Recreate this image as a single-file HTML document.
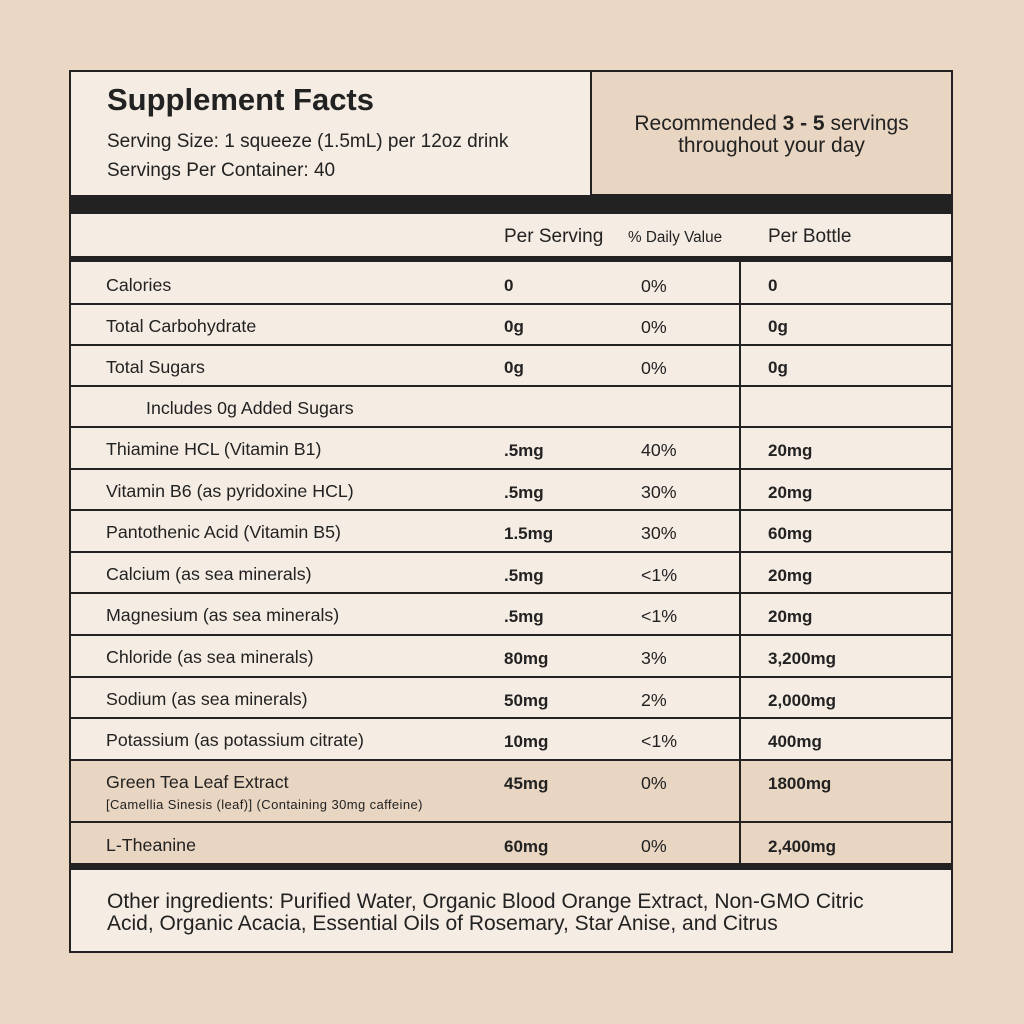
<!DOCTYPE html>
<html><head><style>
body{margin:0;width:1024px;height:1024px;background:#ead8c5;font-family:"Liberation Sans",sans-serif;color:#222;position:relative;overflow:hidden}
div{position:absolute;box-sizing:border-box}
.t{white-space:nowrap;font-size:17.8px}
.b{font-weight:bold;font-size:17px}
.h{height:2px;background:#222;left:69px;width:884px}
</style></head><body>
<div style="left:69px;top:70px;width:884px;height:883px;background:#f5ece3;border:2px solid #222"></div>
<div style="left:590px;top:70px;width:363px;height:126px;background:#e9d6c2;border:2px solid #222"></div>
<div class="t" style="left:107px;top:82px;font-size:31px;font-weight:bold">Supplement Facts</div>
<div class="t" style="left:107px;top:131px;font-size:19px">Serving Size: 1 squeeze (1.5mL) per 12oz drink</div>
<div class="t" style="left:107px;top:160px;font-size:19px">Servings Per Container: 40</div>
<div class="t" style="left:590px;width:363px;top:113px;text-align:center;font-size:21px;line-height:22px">Recommended <b>3 - 5</b> servings<br>throughout your day</div>
<div style="left:69px;top:195px;width:884px;height:19px;background:#222"></div>
<div class="t" style="left:504px;top:226px;font-size:19px">Per Serving</div>
<div class="t" style="left:628px;top:229px;font-size:15.3px">% Daily Value</div>
<div class="t" style="left:768px;top:226px;font-size:19px">Per Bottle</div>
<div style="left:69px;top:256px;width:884px;height:6px;background:#222"></div>
<div style="left:69px;top:760px;width:884px;height:104px;background:#e9d6c2;border-left:2px solid #222;border-right:2px solid #222"></div>
<div class="h" style="top:303px"></div><div class="h" style="top:344px"></div><div class="h" style="top:385px"></div><div class="h" style="top:426px"></div><div class="h" style="top:468px"></div><div class="h" style="top:509px"></div><div class="h" style="top:551px"></div><div class="h" style="top:592px"></div><div class="h" style="top:634px"></div><div class="h" style="top:676px"></div><div class="h" style="top:717px"></div><div class="h" style="top:759px"></div><div class="h" style="top:821px"></div>
<div style="left:739px;top:262px;width:2px;height:602px;background:#222"></div>
<div style="left:69px;top:863px;width:884px;height:7px;background:#222"></div>

<div class="t" style="left:106px;top:275px">Calories</div><div class="t b" style="left:504px;top:276px">0</div><div class="t" style="left:641px;top:276px">0%</div><div class="t b" style="left:768px;top:276px">0</div>
<div class="t" style="left:106px;top:316px">Total Carbohydrate</div><div class="t b" style="left:504px;top:317px">0g</div><div class="t" style="left:641px;top:317px">0%</div><div class="t b" style="left:768px;top:317px">0g</div>
<div class="t" style="left:106px;top:357px">Total Sugars</div><div class="t b" style="left:504px;top:358px">0g</div><div class="t" style="left:641px;top:358px">0%</div><div class="t b" style="left:768px;top:358px">0g</div>
<div class="t" style="left:146px;top:398px">Includes 0g Added Sugars</div>
<div class="t" style="left:106px;top:439px">Thiamine HCL (Vitamin B1)</div><div class="t b" style="left:504px;top:441px">.5mg</div><div class="t" style="left:641px;top:440px">40%</div><div class="t b" style="left:768px;top:441px">20mg</div>
<div class="t" style="left:106px;top:481px">Vitamin B6 (as pyridoxine HCL)</div><div class="t b" style="left:504px;top:483px">.5mg</div><div class="t" style="left:641px;top:482px">30%</div><div class="t b" style="left:768px;top:483px">20mg</div>
<div class="t" style="left:106px;top:522px">Pantothenic Acid (Vitamin B5)</div><div class="t b" style="left:504px;top:524px">1.5mg</div><div class="t" style="left:641px;top:523px">30%</div><div class="t b" style="left:768px;top:524px">60mg</div>
<div class="t" style="left:106px;top:564px">Calcium (as sea minerals)</div><div class="t b" style="left:504px;top:566px">.5mg</div><div class="t" style="left:641px;top:565px">&lt;1%</div><div class="t b" style="left:768px;top:566px">20mg</div>
<div class="t" style="left:106px;top:605px">Magnesium (as sea minerals)</div><div class="t b" style="left:504px;top:607px">.5mg</div><div class="t" style="left:641px;top:606px">&lt;1%</div><div class="t b" style="left:768px;top:607px">20mg</div>
<div class="t" style="left:106px;top:647px">Chloride (as sea minerals)</div><div class="t b" style="left:504px;top:649px">80mg</div><div class="t" style="left:641px;top:648px">3%</div><div class="t b" style="left:768px;top:649px">3,200mg</div>
<div class="t" style="left:106px;top:689px">Sodium (as sea minerals)</div><div class="t b" style="left:504px;top:691px">50mg</div><div class="t" style="left:641px;top:690px">2%</div><div class="t b" style="left:768px;top:691px">2,000mg</div>
<div class="t" style="left:106px;top:730px">Potassium (as potassium citrate)</div><div class="t b" style="left:504px;top:732px">10mg</div><div class="t" style="left:641px;top:731px">&lt;1%</div><div class="t b" style="left:768px;top:732px">400mg</div>
<div class="t" style="left:106px;top:772px">Green Tea Leaf Extract</div><div class="t" style="left:106px;top:797px;font-size:13px;letter-spacing:0.4px">[Camellia Sinesis (leaf)]  (Containing 30mg caffeine)</div><div class="t b" style="left:504px;top:774px">45mg</div><div class="t" style="left:641px;top:773px">0%</div><div class="t b" style="left:768px;top:774px">1800mg</div>
<div class="t" style="left:106px;top:835px">L-Theanine</div><div class="t b" style="left:504px;top:837px">60mg</div><div class="t" style="left:641px;top:836px">0%</div><div class="t b" style="left:768px;top:837px">2,400mg</div>

<div class="t" style="left:107px;top:891px;font-size:21px;line-height:22px">Other ingredients: Purified Water, Organic Blood Orange Extract, Non-GMO Citric<br>Acid, Organic Acacia, Essential Oils of Rosemary, Star Anise, and Citrus</div>
</body></html>
